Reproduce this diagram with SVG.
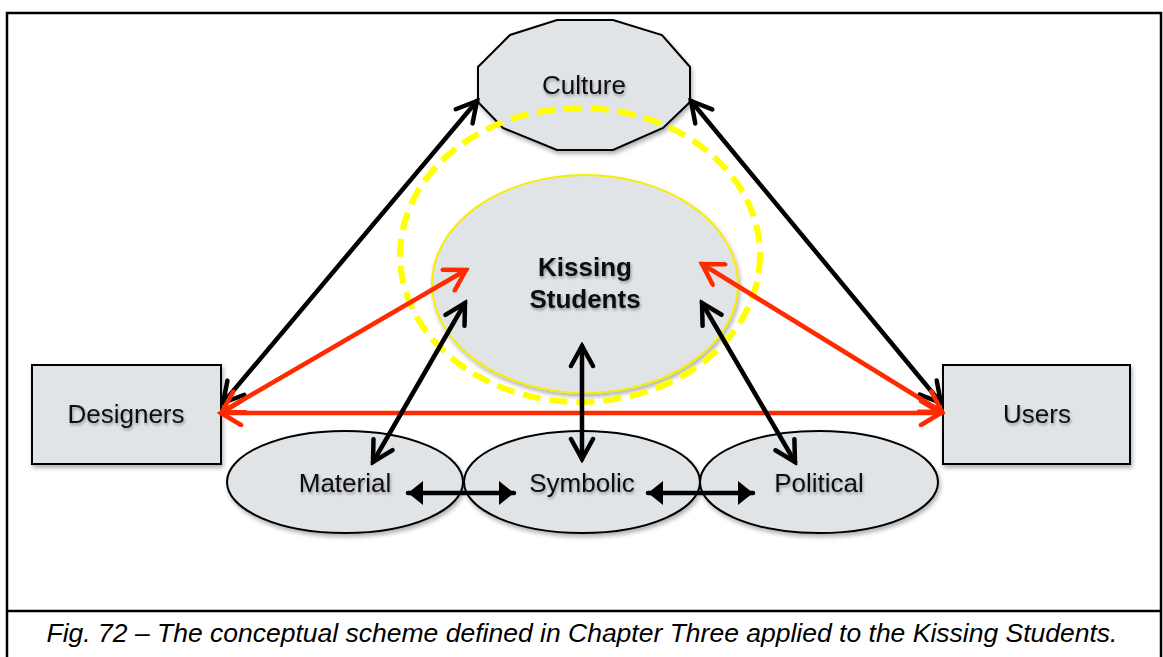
<svg xmlns="http://www.w3.org/2000/svg" width="1163" height="657" viewBox="0 0 1163 657">
<defs>
<filter id="sh" x="-20%" y="-20%" width="140%" height="140%">
<feDropShadow dx="1.5" dy="3" stdDeviation="2" flood-color="#000" flood-opacity="0.3"/>
</filter>
<filter id="tsh" x="-10%" y="-30%" width="120%" height="160%">
<feDropShadow dx="1" dy="2" stdDeviation="1.5" flood-color="#000" flood-opacity="0.35"/>
</filter>
<marker id="ak" viewBox="-24 -14 28 28" refX="0" refY="0" markerWidth="28" markerHeight="28" markerUnits="userSpaceOnUse" orient="auto-start-reverse">
<path d="M-20,-11 L0,0 L-20,11" fill="none" stroke="#000" stroke-width="4.5" stroke-linecap="round" stroke-linejoin="miter"/>
</marker>
<marker id="ar" viewBox="-24 -14 28 28" refX="0" refY="0" markerWidth="28" markerHeight="28" markerUnits="userSpaceOnUse" orient="auto-start-reverse">
<path d="M-20,-12 L0,0 L-20,12" fill="none" stroke="#ff2a00" stroke-width="4.5" stroke-linecap="round" stroke-linejoin="miter"/>
</marker>
<marker id="tk" viewBox="-16 -13 17 26" refX="0" refY="0" markerWidth="17" markerHeight="26" markerUnits="userSpaceOnUse" orient="auto-start-reverse">
<path d="M-15,-12 L0,0 L-15,12 Z" fill="#000"/>
</marker>
</defs>
<style>
.shape{fill:#e1e4e7;stroke:#000;stroke-width:2;filter:url(#sh)}
.lbl{font-family:"Liberation Sans",Arial,sans-serif;font-size:26px;fill:#111;text-anchor:middle;filter:url(#tsh)}
.bold{font-weight:bold}
.blk{stroke:#000;stroke-width:4.5;fill:none;stroke-linecap:round}
.red{stroke:#ff2a00;stroke-width:4.5;fill:none;stroke-linecap:round}
.frame{fill:none;stroke:#000;stroke-width:2.5}
.cap{font-family:"Liberation Sans",Arial,sans-serif;font-size:26.5px;font-style:italic;fill:#000;text-anchor:middle}
</style>
<rect x="0" y="0" width="1163" height="657" fill="#fff"/>
<g id="frame">
<path class="frame" d="M7,657 V13 H1161 V657"/>
<line class="frame" x1="7" y1="611" x2="1161" y2="611"/>
</g>
<g id="culture">
<polygon class="shape" points="557,20 613,20 662,35 690,67 690,102 663,128 613,150 557,150 503,128 478,102 478,67 510,35"/>
<text class="lbl" x="584" y="94">Culture</text>
</g>
<g id="designers">
<rect class="shape" x="32" y="365" width="189" height="99"/>
<text class="lbl" x="126" y="423">Designers</text>
</g>
<g id="users">
<rect class="shape" x="943" y="365" width="187" height="99"/>
<text class="lbl" x="1037" y="423">Users</text>
</g>
<g id="material">
<ellipse class="shape" cx="345" cy="482" rx="118" ry="51"/>
<text class="lbl" x="345" y="492">Material</text>
</g>
<g id="symbolic">
<ellipse class="shape" cx="582" cy="482" rx="118" ry="51"/>
<text class="lbl" x="582" y="492">Symbolic</text>
</g>
<g id="political">
<ellipse class="shape" cx="819" cy="482" rx="119" ry="51"/>
<text class="lbl" x="819" y="492">Political</text>
</g>
<g id="kissing">
<ellipse cx="585" cy="284" rx="153" ry="109" fill="#e1e4e7" stroke="#f5ee00" stroke-width="2" filter="url(#sh)"/>
<text class="lbl bold" x="585" y="276">Kissing</text>
<text class="lbl bold" x="585" y="308">Students</text>
</g>
<g id="halo">
<ellipse cx="580" cy="255" rx="180" ry="147" fill="none" stroke="#ffff00" stroke-width="6" stroke-dasharray="18 9"/>
</g>
<g id="connectors">
<line class="blk" x1="223" y1="403" x2="477" y2="101" marker-start="url(#ak)" marker-end="url(#ak)"/>
<line class="blk" x1="941" y1="403" x2="691" y2="101" marker-start="url(#ak)" marker-end="url(#ak)"/>
<line class="red" x1="221" y1="413" x2="941" y2="413" marker-start="url(#ar)" marker-end="url(#ar)"/>
<line class="red" x1="222" y1="412" x2="466" y2="270" marker-start="url(#ar)" marker-end="url(#ar)"/>
<line class="red" x1="942" y1="412" x2="702" y2="264" marker-start="url(#ar)" marker-end="url(#ar)"/>
<line class="blk" x1="465" y1="303" x2="373" y2="462" marker-start="url(#ak)" marker-end="url(#ak)"/>
<line class="blk" x1="702" y1="303" x2="795" y2="462" marker-start="url(#ak)" marker-end="url(#ak)"/>
<line class="blk" x1="582" y1="346" x2="582" y2="459" marker-start="url(#ak)" marker-end="url(#ak)"/>
<line class="blk" x1="408" y1="493" x2="514" y2="493" stroke-linecap="butt" marker-start="url(#tk)" marker-end="url(#tk)"/>
<line class="blk" x1="648" y1="493" x2="753" y2="493" stroke-linecap="butt" marker-start="url(#tk)" marker-end="url(#tk)"/>
</g>
<text class="cap" x="582" y="642">Fig. 72 – The conceptual scheme defined in Chapter Three applied to the Kissing Students.</text>
</svg>
